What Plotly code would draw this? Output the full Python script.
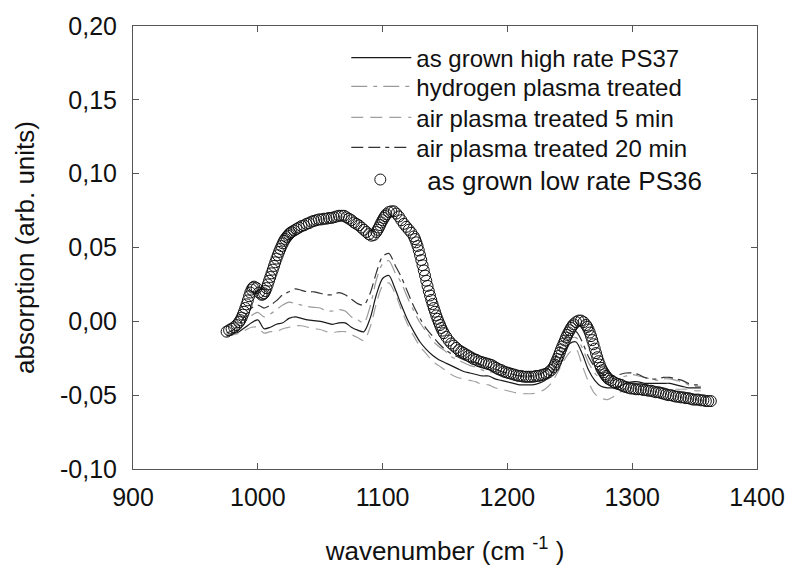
import plotly.graph_objects as go

# ---------------- data ----------------
# as grown low rate PS36 (open circles): readings on a 2 cm-1 grid from 975 ...
circ_start = 975
circ_step = 2
low_rate_ps36_base = [
    -0.0070, -0.0060, -0.0050, -0.0040, -0.0025, -0.0005, 0.0025, 0.0065, 0.0115, 0.0170,
    0.0215, 0.0235, 0.0225, 0.0195, 0.0180, 0.0190, 0.0225, 0.0275, 0.0325, 0.0375,
    0.0425, 0.0470, 0.0510, 0.0545, 0.0570, 0.0590, 0.0605, 0.0615, 0.0625, 0.0635,
    0.0645, 0.0650, 0.0660, 0.0665, 0.0675, 0.0680, 0.0685, 0.0690, 0.0690, 0.0695,
    0.0695, 0.0700, 0.0700, 0.0705, 0.0710, 0.0715, 0.0715, 0.0715, 0.0705, 0.0695,
    0.0685, 0.0670, 0.0660, 0.0650, 0.0635, 0.0620, 0.0605, 0.0590, 0.0580, 0.0585,
    0.0605, 0.0635, 0.0670, 0.0700, 0.0725, 0.0740, 0.0745, 0.0745, 0.0730, 0.0710,
    0.0685, 0.0660, 0.0640, 0.0620, 0.0600, 0.0575, 0.0535, 0.0480, 0.0415, 0.0345,
    0.0275, 0.0205, 0.0145, 0.0090, 0.0040, -0.0005, -0.0045, -0.0080, -0.0105, -0.0130,
    -0.0150, -0.0165, -0.0180, -0.0195, -0.0205, -0.0215, -0.0225, -0.0235, -0.0245, -0.0255,
    -0.0260, -0.0270, -0.0275, -0.0280, -0.0285, -0.0290, -0.0295, -0.0305, -0.0315, -0.0325,
    -0.0330, -0.0340, -0.0345, -0.0350, -0.0355, -0.0360, -0.0365, -0.0370, -0.0370, -0.0375,
    -0.0375, -0.0375, -0.0375, -0.0375, -0.0370, -0.0370, -0.0365, -0.0360, -0.0355, -0.0345,
    -0.0330, -0.0310, -0.0275, -0.0235, -0.0190, -0.0150, -0.0110, -0.0075, -0.0045, -0.0020,
    -0.0005, 0.0005, 0.0005, -0.0005, -0.0025, -0.0055, -0.0100, -0.0155, -0.0215, -0.0270,
    -0.0315, -0.0345, -0.0370, -0.0390, -0.0400, -0.0410, -0.0420, -0.0425, -0.0430, -0.0440,
    -0.0445, -0.0450, -0.0455, -0.0455, -0.0460, -0.0460, -0.0460, -0.0465, -0.0465, -0.0470,
    -0.0470, -0.0475, -0.0480, -0.0480, -0.0485, -0.0490, -0.0495, -0.0500, -0.0500, -0.0505,
    -0.0510, -0.0510, -0.0515, -0.0515, -0.0520, -0.0520, -0.0525, -0.0530, -0.0530, -0.0530,
    -0.0535, -0.0535, -0.0540, -0.0540, -0.0540,
]
# ... plus extra readings on the steep flanks, where the measured points are denser
wn_circles_extra = [
    986, 988, 990, 992, 994, 996,
    1004, 1006, 1008, 1010, 1012, 1014, 1016, 1018, 1020, 1022, 1024, 1026,
    1096, 1098, 1100, 1102,
    1126, 1128, 1130, 1132, 1134, 1136, 1138, 1140, 1142, 1144, 1146, 1148,
    1238, 1240, 1242, 1244, 1246, 1248, 1250, 1252,
    1264, 1266, 1268, 1270, 1272, 1274, 1276, 1278, 1280,
]
low_rate_ps36_extra = [
    0.0008, 0.0045, 0.0090, 0.0142, 0.0195, 0.0228,
    0.0182, 0.0205, 0.0250, 0.0300, 0.0350, 0.0400, 0.0448, 0.0490, 0.0528, 0.0558, 0.0580, 0.0598,
    0.0620, 0.0652, 0.0685, 0.0713,
    0.0557, 0.0510, 0.0448, 0.0380, 0.0310, 0.0240, 0.0175, 0.0117, 0.0065, 0.0017, -0.0025, -0.0063,
    -0.0293, -0.0255, -0.0212, -0.0170, -0.0130, -0.0092, -0.0060, -0.0032,
    -0.0038, -0.0076, -0.0127, -0.0185, -0.0243, -0.0293, -0.0331, -0.0358, -0.0380,
]
wn_circles_base = [circ_start + circ_step * i for i in range(len(low_rate_ps36_base))]
_pairs = sorted(zip(wn_circles_base + wn_circles_extra, low_rate_ps36_base + low_rate_ps36_extra))
wn_circles = [p[0] for p in _pairs]
low_rate_ps36 = [p[1] for p in _pairs]

# line spectra, 5 cm-1 grid 975 ... 1355
wn_lines = list(range(975, 1356, 5))

high_rate_ps37 = [
    -0.010, -0.009, -0.007, -0.004, -0.001, 0.001, -0.005, -0.004, -0.002, -0.001,
    0.002, 0.003, 0.002, 0.001, 0.0005, 0.000, -0.001, -0.002, -0.001, -0.001,
    -0.004, -0.006, -0.007, 0.002, 0.018, 0.029, 0.031, 0.022, 0.011, 0.001,
    -0.007, -0.014, -0.019, -0.023, -0.026, -0.028, -0.030, -0.032, -0.034, -0.035,
    -0.036, -0.037, -0.037, -0.039, -0.040, -0.041, -0.042, -0.043, -0.043, -0.043,
    -0.042, -0.040, -0.036, -0.029, -0.021, -0.015, -0.014, -0.022, -0.033, -0.040,
    -0.044, -0.045, -0.045, -0.044, -0.042, -0.041, -0.041, -0.042, -0.042, -0.042,
    -0.042, -0.042, -0.043, -0.044, -0.045, -0.045, -0.045,
]

hydrogen_plasma = [
    -0.009, -0.008, -0.005, 0.000, 0.004, 0.006, 0.003, 0.005, 0.008, 0.011,
    0.013, 0.012, 0.011, 0.010, 0.0095, 0.009, 0.007, 0.007, 0.008, 0.007,
    0.003, 0.001, -0.001, 0.010, 0.028, 0.039, 0.041, 0.033, 0.026, 0.016,
    0.007, -0.001, -0.007, -0.013, -0.017, -0.020, -0.024, -0.026, -0.028, -0.030,
    -0.031, -0.033, -0.034, -0.035, -0.037, -0.038, -0.039, -0.040, -0.041, -0.041,
    -0.040, -0.038, -0.034, -0.026, -0.018, -0.012, -0.011, -0.018, -0.028, -0.035,
    -0.039, -0.040, -0.040, -0.038, -0.037, -0.036, -0.037, -0.038, -0.039, -0.040,
    -0.039, -0.039, -0.040, -0.041, -0.043, -0.044, -0.044,
]

air_plasma_5min = [
    -0.010, -0.009, -0.008, -0.006, -0.004, -0.004, -0.008, -0.007, -0.007, -0.005,
    -0.004, -0.003, -0.003, -0.004, -0.005, -0.0055, -0.007, -0.0075, -0.007, -0.007,
    -0.009, -0.011, -0.013, -0.004, 0.012, 0.024, 0.026, 0.019, 0.008, -0.002,
    -0.010, -0.017, -0.022, -0.027, -0.030, -0.033, -0.036, -0.038, -0.039, -0.040,
    -0.041, -0.043, -0.043, -0.045, -0.046, -0.047, -0.048, -0.049, -0.049, -0.049,
    -0.048, -0.046, -0.042, -0.035, -0.027, -0.021, -0.019, -0.030, -0.041, -0.049,
    -0.052, -0.053, -0.051, -0.048, -0.046, -0.044, -0.044, -0.044, -0.044, -0.045,
    -0.045, -0.046, -0.046, -0.046, -0.046, -0.047, -0.047,
]

air_plasma_20min = [
    -0.008, -0.006, -0.002, 0.004, 0.009, 0.011, 0.009, 0.011, 0.014, 0.018,
    0.020, 0.022, 0.021, 0.020, 0.020, 0.019, 0.018, 0.018, 0.0195, 0.018,
    0.015, 0.012, 0.011, 0.019, 0.033, 0.044, 0.046, 0.038, 0.030, 0.020,
    0.010, 0.002, -0.005, -0.010, -0.015, -0.019, -0.022, -0.024, -0.026, -0.027,
    -0.028, -0.030, -0.031, -0.032, -0.034, -0.035, -0.036, -0.037, -0.037, -0.037,
    -0.036, -0.034, -0.030, -0.022, -0.013, -0.008, -0.007, -0.014, -0.024, -0.031,
    -0.035, -0.037, -0.037, -0.036, -0.035, -0.035, -0.036, -0.038, -0.039, -0.039,
    -0.038, -0.038, -0.039, -0.040, -0.042, -0.043, -0.043,
]

x_tick_vals = [900, 1000, 1100, 1200, 1300, 1400]
x_tick_text = ["900", "1000", "1100", "1200", "1300", "1400"]
y_tick_vals = [-0.10, -0.05, 0.00, 0.05, 0.10, 0.15, 0.20]
y_tick_text = ["-0,10", "-0,05", "0,00", "0,05", "0,10", "0,15", "0,20"]

# ---------------- figure ----------------
FONT = "Liberation Sans, Arial, sans-serif"
TXT = "#111111"
fig = go.Figure()

line_series = [
    ("as grown high rate PS37", high_rate_ps37, "#1a1a1a", "solid", "legend"),
    ("hydrogen plasma treated", hydrogen_plasma, "#9a9a9a", "16px,6px,4px,6px", "legend2"),
    ("air plasma treated 5 min", air_plasma_5min, "#a0a0a0", "12px,7px", "legend3"),
    ("air plasma treated 20 min", air_plasma_20min, "#333333", "12px,5px,12px,5px,4px,5px", "legend4"),
]
for name, ys, col, dash, leg in line_series:
    fig.add_trace(go.Scatter(
        x=wn_lines, y=ys, mode="lines", name=name,
        line=dict(color=col, width=1.2, dash=dash, shape="spline", smoothing=0.8),
        legend=leg,
    ))

fig.add_trace(go.Scatter(
    x=wn_circles, y=low_rate_ps36, mode="markers", name="as grown low rate PS36",
    marker=dict(symbol="circle-open", size=11, color="#111111", line=dict(width=1)),
    legend="legend5",
))

axis_common = dict(
    showline=True, linecolor="#555555", linewidth=1, mirror="ticks",
    ticks="inside", ticklen=6, tickcolor="#555555", tickwidth=1,
    showgrid=False, zeroline=False,
    tickfont=dict(family=FONT, size=25, color=TXT),
)


def row_legend(ypx, size, xpaper, itemwidth):
    return dict(x=xpaper, y=1 - (ypx - 26) / 444, xanchor="left", yanchor="middle",
                bgcolor="rgba(0,0,0,0)", borderwidth=0, itemwidth=itemwidth,
                font=dict(family=FONT, size=size, color=TXT))


fig.update_layout(
    width=797, height=572,
    margin=dict(l=133, r=32, t=26, b=102),
    paper_bgcolor="white", plot_bgcolor="white",
    font=dict(family=FONT, color=TXT),
    xaxis=dict(range=[900, 1400], tickvals=x_tick_vals, ticktext=x_tick_text,
               ticklabelstandoff=6,
               title=dict(text="wavenumber (cm <sup>-1</sup> )",
                          font=dict(family=FONT, size=26, color=TXT), standoff=31),
               **axis_common),
    yaxis=dict(range=[-0.10, 0.20], tickvals=y_tick_vals, ticktext=y_tick_text,
               ticklabelstandoff=10,
               title=dict(text="absorption (arb. units)",
                          font=dict(family=FONT, size=26, color=TXT), standoff=17),
               **axis_common),
    legend=row_legend(58, 24, 0.3418, 60),
    legend2=row_legend(87, 24, 0.3418, 60),
    legend3=row_legend(118, 24, 0.3418, 60),
    legend4=row_legend(148, 24, 0.3418, 60),
    legend5=row_legend(180, 26, 0.321, 84),
    showlegend=True,
)

fig.write_html("out.html")
